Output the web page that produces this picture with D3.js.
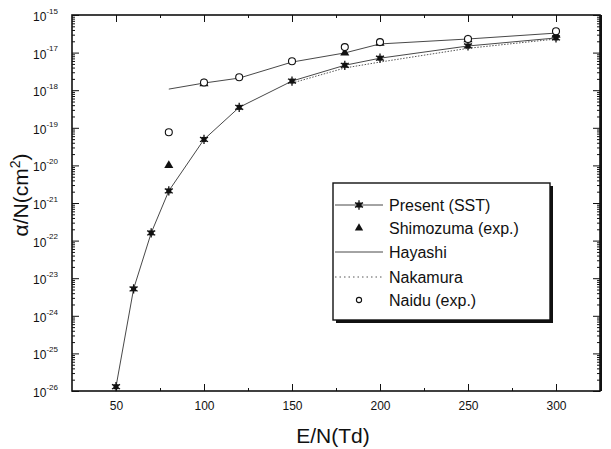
<!DOCTYPE html>
<html><head><meta charset="utf-8">
<script src="https://cdn.jsdelivr.net/npm/d3@7"></script>
<style>body{margin:0;background:#fff}svg{display:block}</style>
</head><body>
<svg id="c" width="611" height="449"></svg>
<script>
// ---- data ----
const presentX = [50, 60, 70, 80, 100, 120, 150, 180, 200, 250, 300];
const presentY = [1.3e-26, 5.2e-24, 1.6e-22, 2.1e-21, 4.9e-20, 3.5e-19, 1.75e-18, 4.6e-18, 7.1e-18, 1.5e-17, 2.45e-17];
const shimozumaX = [80, 100, 180, 200, 250, 300];
const shimozumaY = [1.0e-20, 1.5e-18, 9.8e-18, 1.8e-17, 2.2e-17, 2.9e-17];
const hayashiX = [80, 100, 120, 150, 180, 200, 250, 300];
const hayashiY = [1.07e-18, 1.55e-18, 2.1e-18, 5.6e-18, 9.8e-18, 1.7e-17, 2.3e-17, 3.3e-17];
const nakamuraX = [150, 180, 200, 250, 300];
const nakamuraY = [1.55e-18, 3.9e-18, 5.6e-18, 1.3e-17, 2.3e-17];
const naiduX = [80, 100, 120, 150, 180, 200, 250, 300];
const naiduY = [7.6e-20, 1.6e-18, 2.2e-18, 5.9e-18, 1.4e-17, 1.9e-17, 2.3e-17, 3.7e-17];
const xTicks = [50, 100, 150, 200, 250, 300];
const xMinorTicks = [50, 75, 100, 125, 150, 175, 200, 225, 250, 275, 300];
const yTickValues = [1e-16, 1e-17, 1e-18, 1e-19, 1e-20, 1e-21, 1e-22, 1e-23, 1e-24, 1e-25, 1e-26];
const yTickLabels = ["-15", "-17", "-18", "-19", "-20", "-21", "-22", "-23", "-24", "-25", "-26"];
const legendLabels = ["Present (SST)", "Shimozuma (exp.)", "Hayashi", "Nakamura", "Naidu (exp.)"];

// ---- layout ----
const L = 72, R = 600, T = 15, B = 391;
const svg = d3.select("#c");
const x = d3.scaleLinear().domain([25, 325]).range([L, R]);
const y = d3.scaleLog().domain([1e-26, 1e-16]).range([B, T]);
const font = "'Liberation Sans', Arial, sans-serif";
const ink = "#111";

// minor log ticks
const yMinor = [];
for (let e = -26; e < -16; e++) for (let m = 2; m <= 9; m++) yMinor.push(m * Math.pow(10, e));

function styleAxis(g) {
  g.select(".domain").remove();
  g.selectAll("line").attr("stroke", ink).attr("stroke-width", 1);
}
// left
svg.append("g").attr("transform", `translate(${L},0)`)
  .call(d3.axisLeft(y).tickValues(yMinor).tickSize(-3).tickFormat("")).call(styleAxis);
const yl = svg.append("g").attr("transform", `translate(${L},0)`)
  .call(d3.axisLeft(y).tickValues(yTickValues).tickSizeInner(-7).tickSizeOuter(0).tickPadding(14)
  .tickFormat(() => "")).call(styleAxis);
yl.selectAll(".tick text").each(function(d, i) {
  const t = d3.select(this);
  t.attr("font-family", font).attr("font-size", 12).attr("fill", ink).attr("dy", "0.45em");
  t.append("tspan").text("10");
  t.append("tspan").attr("font-size", 8).attr("dy", "-0.9em").text(yTickLabels[i]);
});
// right
svg.append("g").attr("transform", `translate(${R},0)`)
  .call(d3.axisRight(y).tickValues(yMinor).tickSize(-3).tickFormat("")).call(styleAxis);
svg.append("g").attr("transform", `translate(${R},0)`)
  .call(d3.axisRight(y).tickValues(yTickValues).tickSize(-7).tickFormat("")).call(styleAxis);
// bottom
svg.append("g").attr("transform", `translate(0,${B})`)
  .call(d3.axisBottom(x).tickValues(xMinorTicks).tickSize(-3).tickFormat("")).call(styleAxis);
const xb = svg.append("g").attr("transform", `translate(0,${B})`)
  .call(d3.axisBottom(x).tickValues(xTicks).tickSizeInner(-7).tickSizeOuter(0).tickPadding(10)
  .tickFormat(d3.format("d"))).call(styleAxis);
xb.selectAll("text").attr("font-family", font).attr("font-size", 12).attr("fill", ink);
// top
svg.append("g").attr("transform", `translate(0,${T})`)
  .call(d3.axisTop(x).tickValues(xMinorTicks).tickSize(-3).tickFormat("")).call(styleAxis);
svg.append("g").attr("transform", `translate(0,${T})`)
  .call(d3.axisTop(x).tickValues(xTicks).tickSize(-7).tickFormat("")).call(styleAxis);

// frame
svg.append("rect").attr("x", L).attr("y", T).attr("width", R - L).attr("height", B - T)
  .attr("fill", "none").attr("stroke", ink).attr("stroke-width", 1.6);
svg.append("line").attr("x1", R + 1).attr("x2", R + 1).attr("y1", T).attr("y2", B)
  .attr("stroke", ink).attr("stroke-width", 2);

// axis titles
svg.append("text").attr("x", (L + R) / 2 - 3).attr("y", 443).attr("text-anchor", "middle")
  .attr("font-family", font).attr("font-size", 21).attr("fill", ink).text("E/N(Td)");
const yt = svg.append("text").attr("transform", "translate(28,195) rotate(-90)")
  .attr("text-anchor", "middle").attr("font-family", font).attr("font-size", 21).attr("fill", ink);
yt.append("tspan").text("α/N(cm");
yt.append("tspan").attr("font-size", 14).attr("dy", "-0.6em").text("2");
yt.append("tspan").attr("dy", "0.42em").text(")");

// lines
const line = d3.line().x(d => x(d[0])).y(d => y(d[1]));
const zip = (a, b) => a.map((v, i) => [v, b[i]]);
svg.append("path").datum(zip(presentX, presentY)).attr("d", line)
  .attr("fill", "none").attr("stroke", "#333").attr("stroke-width", 0.9);
svg.append("path").datum(zip(hayashiX, hayashiY)).attr("d", line)
  .attr("fill", "none").attr("stroke", "#333").attr("stroke-width", 0.9);
svg.append("path").datum(zip(nakamuraX, nakamuraY)).attr("d", line)
  .attr("fill", "none").attr("stroke", "#444").attr("stroke-width", 0.9).attr("stroke-dasharray", "1.5,1.5");

// markers
function star(g, cx, cy) {
  g.append("rect").attr("x", cx - 2.5).attr("y", cy - 2.5).attr("width", 5).attr("height", 5).attr("fill", ink);
  g.append("path").attr("transform", `translate(${cx},${cy})`)
    .attr("d", d3.symbol(d3.symbolAsterisk, 60)()).attr("stroke", ink).attr("stroke-width", 1.3).attr("fill", "none");
}
function tri(g, cx, cy, s) {
  g.append("path").attr("transform", `translate(${cx},${cy})`)
    .attr("d", d3.symbol(d3.symbolTriangle, s)()).attr("fill", ink);
}
function circ(g, cx, cy, r) {
  g.append("circle").attr("cx", cx).attr("cy", cy).attr("r", r).attr("fill", "#fff").attr("stroke", ink).attr("stroke-width", 1.1);
}
const mk = svg.append("g");
presentX.forEach((v, i) => star(mk, x(v), y(presentY[i])));
shimozumaX.forEach((v, i) => tri(mk, x(v), y(shimozumaY[i]), 36));
naiduX.forEach((v, i) => circ(mk, x(v), y(naiduY[i]), 3.5));

// legend
const lx = 333, ly = 183, lw = 217, lh = 137;
svg.append("rect").attr("x", lx + 3).attr("y", ly + 3).attr("width", lw).attr("height", lh).attr("fill", ink);
svg.append("rect").attr("x", lx).attr("y", ly).attr("width", lw).attr("height", lh)
  .attr("fill", "#fff").attr("stroke", ink).attr("stroke-width", 1.4);
const rows = [205, 228, 252, 277, 300];
const lg = svg.append("g");
legendLabels.forEach((t, i) => {
  lg.append("text").attr("x", 389).attr("y", rows[i]).attr("dy", "0.36em")
    .attr("font-family", font).attr("font-size", 16).attr("fill", ink).text(t);
});
lg.append("line").attr("x1", lx + 2).attr("x2", 383).attr("y1", rows[0]).attr("y2", rows[0]).attr("stroke", "#333").attr("stroke-width", 0.9);
star(lg, 359, rows[0]);
tri(lg, 359, rows[1], 30);
lg.append("line").attr("x1", lx + 2).attr("x2", 383).attr("y1", rows[2]).attr("y2", rows[2]).attr("stroke", "#333").attr("stroke-width", 0.9);
lg.append("line").attr("x1", lx + 2).attr("x2", 383).attr("y1", rows[3]).attr("y2", rows[3]).attr("stroke", "#444").attr("stroke-width", 0.9).attr("stroke-dasharray", "1.5,3");
circ(lg, 359, rows[4], 2.6);
</script>
</body></html>
